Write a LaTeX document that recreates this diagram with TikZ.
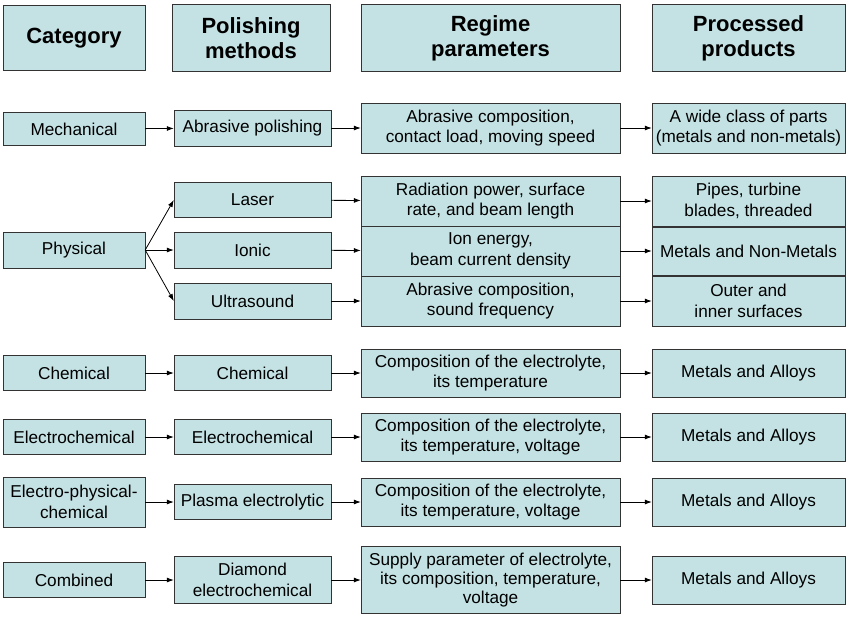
\documentclass[tikz,border=0pt]{standalone}
\usepackage{fontspec}
\setmainfont{Liberation Sans}
\usetikzlibrary{arrows.meta}
\definecolor{boxfill}{RGB}{196,226,228}

\begin{document}
\begin{tikzpicture}[x=1pt, y=-1pt,
    every node/.style = {draw=black!80, fill=boxfill, align=center,
      inner sep=1pt, font=\fontsize{17.2}{20.5}\selectfont},
    head/.style = {font=\fontsize{22}{25}\selectfont\bfseries},
    link/.style = {-{Latex[length=7pt,width=5pt]}, thick}]
  \useasboundingbox (0,0) rectangle (850,622);
  % headers
  \node[head, minimum width=142, minimum height=65] (hcat) at (74,38) {Category};
  \node[head, minimum width=158, minimum height=67] (hpol) at (251,38) {Polishing\\methods};
  \node[head, minimum width=259, minimum height=67] (hreg) at (490.5,38) {Regime\\parameters};
  \node[head, minimum width=193, minimum height=67] (hpro) at (748.5,38) {Processed\\products};
  % mechanical
  \node[minimum width=142, minimum height=33] (c1) at (74,129) {Mechanical};
  \node[minimum width=157, minimum height=36] (m1) at (252.5,128) {Abrasive polishing};
  \node[minimum width=259, minimum height=50] (r1) at (490.5,128) {Abrasive composition,\\contact load, moving speed};
  \node[minimum width=193, minimum height=50] (p1) at (748.5,128) {A wide class of parts\\(metals and non-metals)};
  % physical
  \node[minimum width=142, minimum height=36] (c2) at (74,250) {Physical};
  \node[minimum width=157, minimum height=35] (m2a) at (252.5,200) {Laser};
  \node[minimum width=157, minimum height=36] (m2b) at (252.5,250) {Ionic};
  \node[minimum width=157, minimum height=36] (m2c) at (252.5,301) {Ultrasound};
  \node[minimum width=259, minimum height=50] (r2a) at (490.5,201) {Radiation power, surface\\rate, and beam length};
  \node[minimum width=259, minimum height=50] (r2b) at (490.5,251) {Ion energy,\\beam current density};
  \node[minimum width=259, minimum height=50] (r2c) at (490.5,301) {Abrasive composition,\\sound frequency};
  \node[minimum width=193, minimum height=50] (p2a) at (748.5,201) {Pipes, turbine\\blades, threaded};
  \node[minimum width=193, minimum height=48] (p2b) at (748.5,251) {Metals and Non-Metals};
  \node[minimum width=193, minimum height=50] (p2c) at (748.5,301) {Outer and\\inner surfaces};
  % chemical
  \node[minimum width=142, minimum height=35] (c3) at (74,373) {Chemical};
  \node[minimum width=157, minimum height=35] (m3) at (252.5,373) {Chemical};
  \node[minimum width=259, minimum height=48] (r3) at (490.5,373) {Composition of the electrolyte,\\its temperature};
  \node[minimum width=193, minimum height=48] (p3) at (748.5,373) {Metals and Alloys};
  % electrochemical
  \node[minimum width=142, minimum height=35] (c4) at (74,437) {Electrochemical};
  \node[minimum width=157, minimum height=35] (m4) at (252.5,437) {Electrochemical};
  \node[minimum width=259, minimum height=48] (r4) at (490.5,437) {Composition of the electrolyte,\\its temperature, voltage};
  \node[minimum width=193, minimum height=48] (p4) at (748.5,437) {Metals and Alloys};
  % electro-physical-chemical
  \node[minimum width=142, minimum height=50] (c5) at (74,502) {Electro-physical-\\chemical};
  \node[minimum width=157, minimum height=35] (m5) at (252.5,502) {Plasma electrolytic};
  \node[minimum width=259, minimum height=48] (r5) at (490.5,502) {Composition of the electrolyte,\\its temperature, voltage};
  \node[minimum width=193, minimum height=48] (p5) at (748.5,502) {Metals and Alloys};
  % combined
  \node[minimum width=142, minimum height=35] (c6) at (74,580) {Combined};
  \node[minimum width=157, minimum height=47] (m6) at (252.5,580) {Diamond\\electrochemical};
  \node[minimum width=259, minimum height=67, font=\fontsize{17.2}{19}\selectfont] (r6) at (490.5,580) {Supply parameter of electrolyte,\\its composition, temperature,\\voltage};
  \node[minimum width=193, minimum height=48] (p6) at (748.5,580) {Metals and Alloys};
  % arrows
  \foreach \row in {1,3,4,5,6} {
    \draw[link] (c\row) -- (m\row);
    \draw[link] (m\row) -- (r\row);
    \draw[link] (r\row) -- (p\row);
  }
  \foreach \sub in {a,b,c} {
    \draw[link] (c2.east) -- (m2\sub.west);
    \draw[link] (m2\sub) -- (r2\sub);
    \draw[link] (r2\sub) -- (p2\sub);
  }
\end{tikzpicture}
\end{document}
